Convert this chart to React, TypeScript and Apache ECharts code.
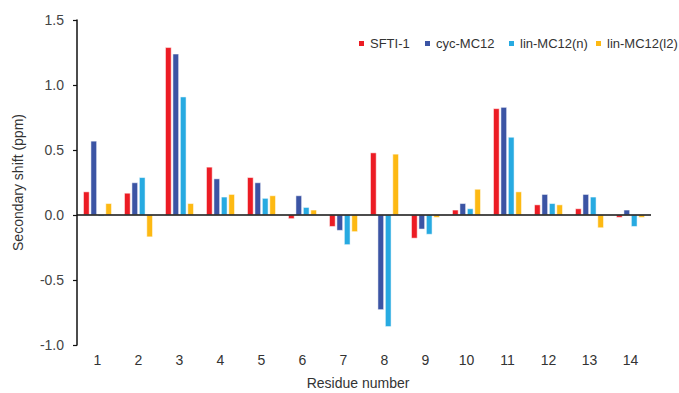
import React, { useEffect, useRef } from "react";
import * as echarts from "echarts";

const categories = ["1", "2", "3", "4", "5", "6", "7", "8", "9", "10", "11", "12", "13", "14"];
const seriesNames = ["SFTI-1", "cyc-MC12", "lin-MC12(n)", "lin-MC12(l2)"];
const sfti1 = [0.18, 0.17, 1.29, 0.37, 0.29, -0.03, -0.09, 0.48, -0.18, 0.04, 0.82, 0.08, 0.05, -0.02];
const cycMC12 = [0.57, 0.25, 1.24, 0.28, 0.25, 0.15, -0.12, -0.73, -0.11, 0.09, 0.83, 0.16, 0.16, 0.04];
const linMC12n = [-0.01, 0.29, 0.91, 0.14, 0.13, 0.06, -0.23, -0.86, -0.15, 0.05, 0.6, 0.09, 0.14, -0.09];
const linMC12l2 = [0.09, -0.17, 0.09, 0.16, 0.15, 0.04, -0.13, 0.47, -0.02, 0.2, 0.18, 0.08, -0.1, -0.02];
const colors = ["#EC1C24", "#3B54A4", "#27AAE1", "#FDB913"];
const legendLefts = [357, 423, 507, 594];

const FONT = "'Liberation Sans', Arial, Helvetica, sans-serif";

export default function App() {
  const ref = useRef<HTMLDivElement>(null);
  useEffect(() => {
    if (!ref.current) return;
    const chart = echarts.init(ref.current, undefined, { renderer: "svg" });
    const data = [sfti1, cycMC12, linMC12n, linMC12l2];
    chart.setOption({
      animation: false,
      textStyle: { fontFamily: FONT },
      grid: {
        left: 77,
        right: 28,
        top: 20,
        bottom: 48,
        containLabel: false,
        outerBoundsMode: "none",
      },
      legend: seriesNames.map((name, i) => ({
        top: 37,
        left: legendLefts[i],
        padding: 0,
        itemWidth: 7,
        itemHeight: 7,
        icon: "rect",
        textStyle: { fontFamily: FONT, fontSize: 13, color: "#333" },
        data: [name],
      })),
      xAxis: {
        type: "category",
        data: categories,
        name: "Residue number",
        nameLocation: "middle",
        nameGap: 31,
        nameTextStyle: { fontFamily: FONT, fontSize: 14, color: "#333", padding: [0, 12, 0, 0] },
        axisLine: { show: false },
        axisTick: { show: false },
        axisLabel: { fontFamily: FONT, fontSize: 14, color: "#333", margin: 8 },
        position: "bottom",
      },
      yAxis: {
        type: "value",
        min: -1,
        max: 1.5,
        interval: 0.5,
        name: "Secondary shift (ppm)",
        nameLocation: "middle",
        nameGap: 52,
        nameTextStyle: { fontFamily: FONT, fontSize: 14, color: "#333" },
        axisLine: { show: true, lineStyle: { color: "#111", width: 1.5 } },
        axisTick: { show: true, length: 4, lineStyle: { color: "#111", width: 1.2 } },
        axisLabel: {
          fontFamily: FONT,
          fontSize: 14,
          color: "#444",
          margin: 13,
          formatter: (v: number) => v.toFixed(1),
        },
        splitLine: { show: false },
      },
      series: seriesNames.map((name, i) => ({
        name,
        type: "bar",
        data: data[i],
        barWidth: 6.2,
        barGap: "20%",
        itemStyle: { color: colors[i], borderColor: "#fff", borderWidth: 0.5 },
        markLine:
          i === 0
            ? {
                silent: true,
                symbol: "none",
                label: { show: false },
                lineStyle: { color: "#111", width: 1.5, type: "solid" },
                data: [{ yAxis: 0 }],
              }
            : undefined,
      })),
    });
    return () => chart.dispose();
  }, []);
  return (
    <div
      ref={ref}
      style={{ position: "absolute", left: 0, top: 0, width: 679, height: 393 }}
    />
  );
}
